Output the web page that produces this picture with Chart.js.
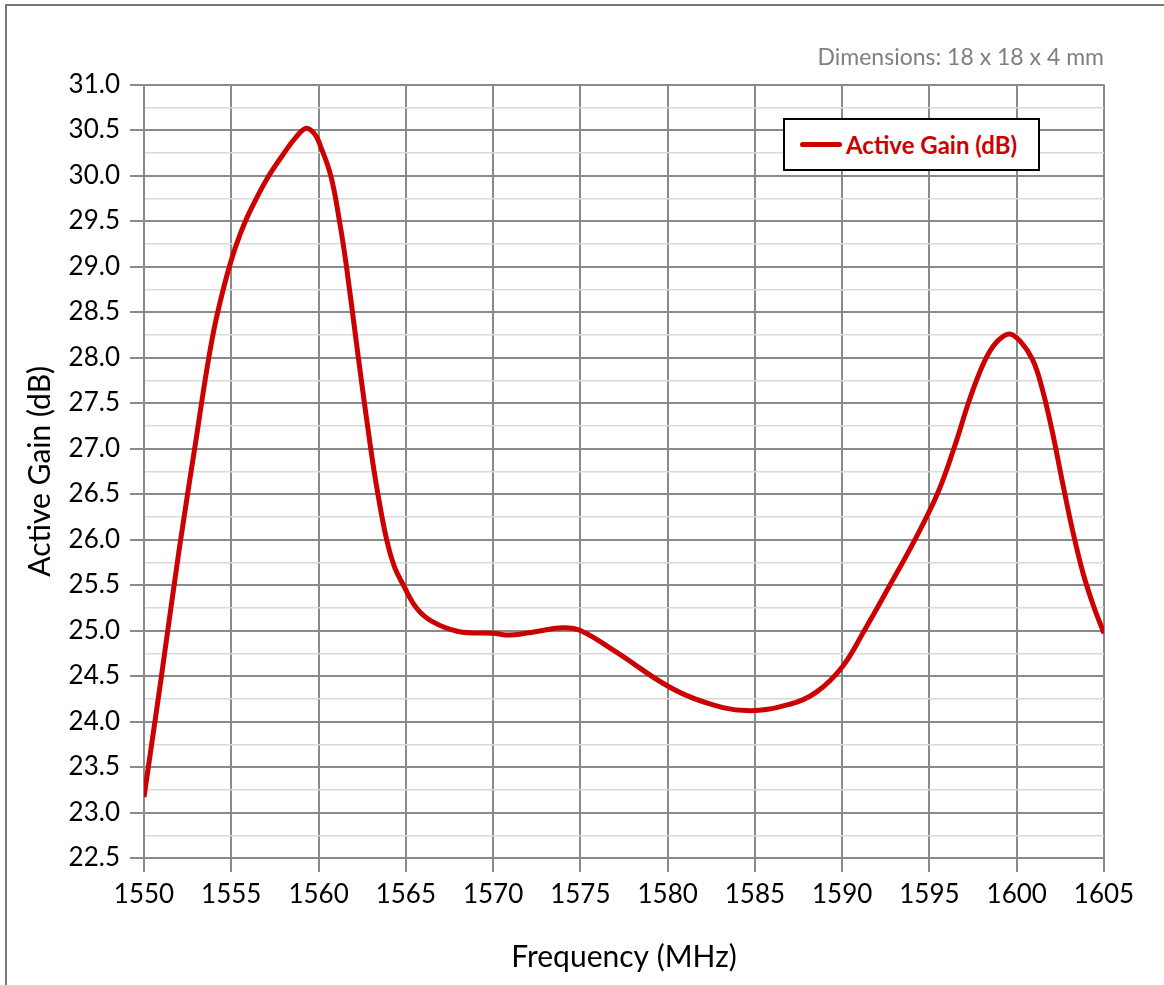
<!DOCTYPE html>
<html>
<head>
<meta charset="utf-8">
<script src="https://cdn.jsdelivr.net/npm/chart.js@4/dist/chart.umd.min.js"></script>
<style>
  html, body { margin: 0; padding: 0; background: #fff; }
  #wrap { position: relative; width: 1164px; height: 985px; overflow: hidden; }
  #frame { position: absolute; left: 5px; top: 4px; width: 1300px; height: 1100px;
           border-left: 2px solid #777; border-top: 2px solid #777; }
  #legend { position: absolute; left: 783px; top: 118px; width: 253px; height: 49px;
            border: 2px solid #000; background: #fff; display: flex; align-items: center;
            font-family: Lato, sans-serif; font-weight: bold; font-size: 24px; color: #cc0000; }
  #legend .swatch { display: inline-block; width: 42px; height: 5px; background: #cc0000;
                    margin-left: 15px; margin-right: 4px; border-radius: 3px; }
</style>
</head>
<body>
<div id="wrap">
  <canvas id="gainChart" width="1164" height="985"></canvas>
  <div id="frame"></div>
  <div id="legend"><span class="swatch"></span>Active Gain (dB)</div>
</div>
<script>
// frequency (MHz) and active gain (dB)
const freqs = [1550, 1551, 1552, 1553, 1553.5, 1554, 1554.5, 1555, 1555.5, 1556,
               1557, 1558, 1558.7, 1559.3, 1559.8, 1560.1, 1560.7, 1561.2, 1561.6,
               1562.28, 1562.99, 1563.4, 1563.9, 1564.35, 1564.86, 1565.6, 1566.5,
               1568, 1570, 1571, 1572.5, 1574, 1575, 1577, 1580, 1582, 1584.5,
               1587, 1588.5, 1590, 1591.27, 1592.74, 1594.17, 1595.45, 1596.4,
               1597.23, 1597.8, 1598.4, 1599, 1599.6, 1600.2, 1600.9, 1601.4,
               1602, 1602.6, 1603.2, 1603.8, 1604.4, 1605];
const gains = [23.17, 24.5, 25.87, 27.12, 27.75, 28.3, 28.72, 29.07, 29.35, 29.58,
               29.95, 30.24, 30.42, 30.52, 30.45, 30.33, 30.0, 29.5, 29.0,
               28.0, 27.0, 26.5, 26.0, 25.7, 25.5, 25.25, 25.1,
               24.99, 24.97, 24.95, 24.99, 25.03, 25.0, 24.77, 24.39, 24.22, 24.12,
               24.19, 24.32, 24.6, 25.0, 25.5, 26.0, 26.5, 27.0,
               27.5, 27.8, 28.05, 28.2, 28.26, 28.18, 27.98, 27.7,
               27.22, 26.65, 26.1, 25.63, 25.27, 24.97];
const xTicks = [1550, 1555, 1560, 1565, 1570, 1575, 1580, 1585, 1590, 1595, 1600, 1605];

const GRID = '#8a8a8a';
const MINOR = '#d9d9d9';
const isMajor = v => Math.abs(v * 2 - Math.round(v * 2)) < 1e-6;

const ctx = document.getElementById('gainChart').getContext('2d');

new Chart(ctx, {
    type: 'line',
    data: {
        datasets: [{
            label: 'Active Gain (dB)',
            data: freqs.map((f, i) => ({ x: f, y: gains[i] })),
            borderColor: '#cc0000',
            borderWidth: 5,
            pointRadius: 0,
            fill: false,
            tension: 0.4
        }]
    },
    options: {
        responsive: false,
        animation: false,
        layout: { padding: { left: 0, right: 60, top: 0, bottom: 0 } },
        plugins: {
            legend: { display: false },
            tooltip: { enabled: false },
            title: {
                display: true,
                text: 'Dimensions: 18 x 18 x 4 mm',
                align: 'end',
                color: '#808080',
                font: { family: 'Lato', size: 23, weight: 'normal' },
                padding: { top: 44, bottom: 13 }
            }
        },
        scales: {
            x: {
                type: 'linear',
                min: 1550,
                max: 1605,
                afterFit: s => { s.height = 127; },
                afterBuildTicks: s => { s.ticks = xTicks.map(v => ({ value: v })); },
                grid: { color: GRID, lineWidth: 2, tickLength: 14, tickColor: GRID },
                border: { color: GRID, width: 2 },
                ticks: {
                    color: '#000',
                    font: { family: 'Lato', size: 26 },
                    padding: 7,
                    maxRotation: 0,
                    callback: v => String(v)
                },
                title: {
                    display: true,
                    text: 'Frequency (MHz)',
                    color: '#000',
                    font: { family: 'Lato', size: 30 },
                    padding: { top: 0, bottom: 10 }
                }
            },
            y: {
                min: 22.5,
                max: 31,
                afterFit: s => { s.width = 144; },
                grid: {
                    color: c => isMajor(c.tick.value) ? GRID : MINOR,
                    lineWidth: c => isMajor(c.tick.value) ? 2 : 1.5,
                    tickColor: c => isMajor(c.tick.value) ? GRID : 'rgba(0,0,0,0)',
                    tickLength: 14
                },
                border: { color: GRID, width: 2 },
                ticks: {
                    stepSize: 0.25,
                    autoSkip: false,
                    color: '#000',
                    font: { family: 'Lato', size: 26 },
                    padding: 10,
                    callback: v => isMajor(v) ? v.toFixed(1) : ''
                },
                title: {
                    display: true,
                    text: 'Active Gain (dB)',
                    color: '#000',
                    font: { family: 'Lato', size: 30 },
                    padding: { top: 22, bottom: 0 }
                }
            }
        }
    }
});
</script>
</body>
</html>
